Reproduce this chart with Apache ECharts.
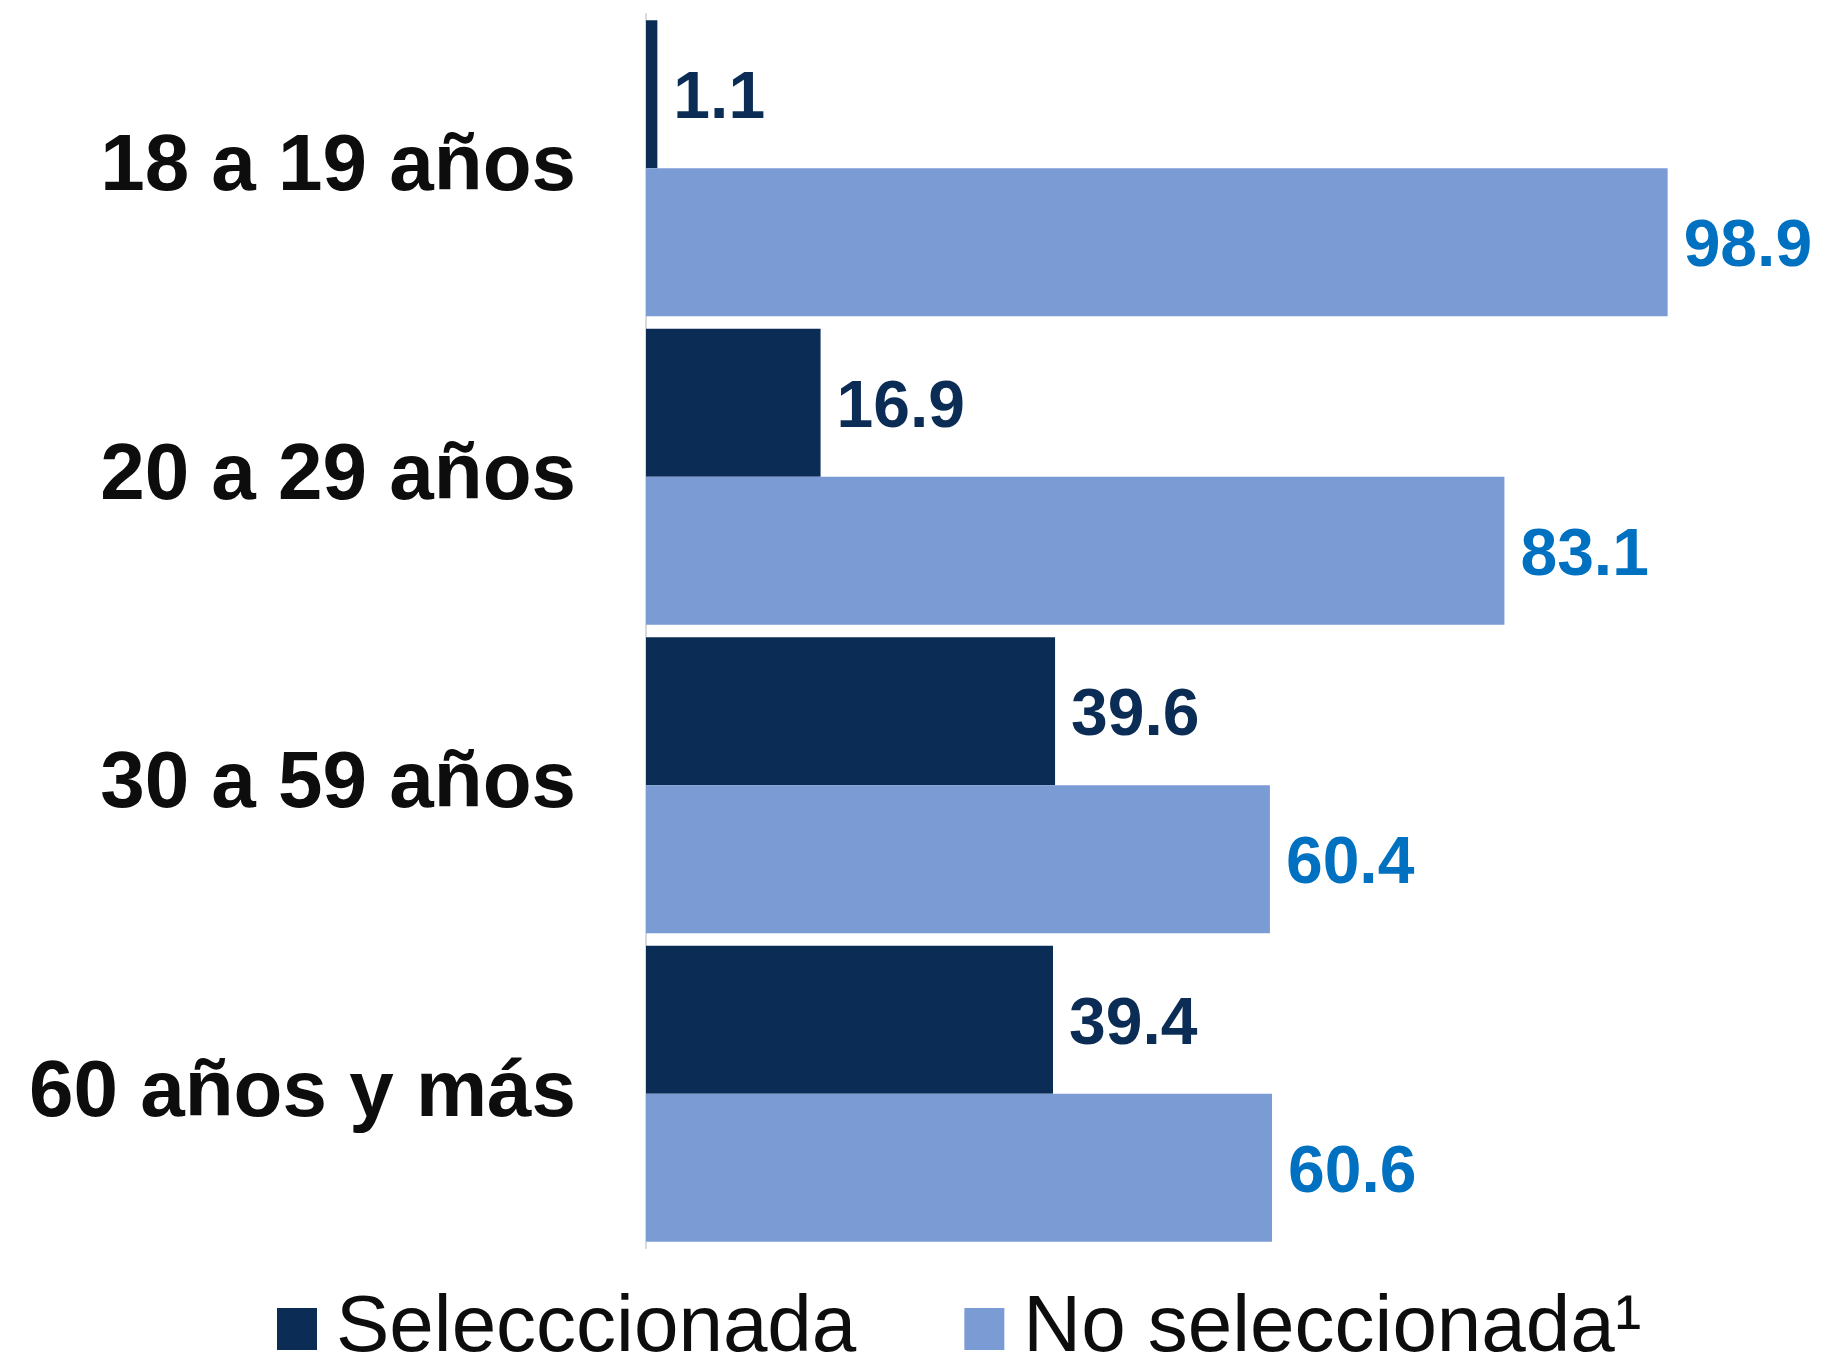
<!DOCTYPE html>
<html>
<head>
<meta charset="utf-8">
<script src="https://cdn.jsdelivr.net/npm/echarts@6/dist/echarts.min.js"></script>
<style>
html,body{margin:0;padding:0;background:#fff;}
#chart{width:1825px;height:1359px;}
</style>
</head>
<body>
<div id="chart"></div>
<script>
var categories = ['18 a 19 años', '20 a 29 años', '30 a 59 años', '60 años y más'];
var seleccionada = [1.1, 16.9, 39.6, 39.4];
var noSeleccionada = [98.9, 83.1, 60.4, 60.6];
var seriesNames = ['Selecccionada', 'No seleccionada¹'];

var chart = echarts.init(document.getElementById('chart'));
var FONT = '"Liberation Sans", Arial, sans-serif';
function fmt(p){ return p.value.toFixed(1); }
chart.setOption({
  animation: false,
  backgroundColor: '#ffffff',
  textStyle: { fontFamily: FONT },
  grid: { left: 646, top: 14, width: 1033, height: 1234, containLabel: false },
  legend: {
    data: seriesNames,
    left: 277,
    top: 1289,
    padding: 0,
    icon: 'rect',
    itemWidth: 40,
    itemHeight: 42,
    itemGap: 108,
    textStyle: { fontSize: 80, color: '#0D0D0D', fontFamily: FONT, padding: [0, 0, 0, 14] }
  },
  xAxis: {
    type: 'value', min: 0, max: 100, show: false
  },
  yAxis: {
    type: 'category',
    data: categories,
    inverse: true,
    axisLine: { show: true, lineStyle: { color: '#D9D9D9', width: 2 } },
    axisTick: { show: false },
    axisLabel: { fontSize: 80, fontWeight: 'bold', color: '#0D0D0D', margin: 70, fontFamily: FONT, padding: [7, 0, 0, 0] },
    splitLine: { show: false }
  },
  series: [
    {
      name: seriesNames[0], type: 'bar', data: seleccionada,
      barCategoryGap: '4%', barGap: '0%',
      itemStyle: { color: '#0B2D55' },
      label: { show: true, position: 'right', distance: 16, offset: [0, 6], fontSize: 66, fontWeight: 'bold', color: '#0B2D55', fontFamily: FONT, formatter: fmt }
    },
    {
      name: seriesNames[1], type: 'bar', data: noSeleccionada,
      barCategoryGap: '4%', barGap: '0%',
      itemStyle: { color: '#7B9BD4' },
      label: { show: true, position: 'right', distance: 16, offset: [0, 6], fontSize: 66, fontWeight: 'bold', color: '#0070C0', fontFamily: FONT, formatter: fmt }
    }
  ]
});
</script>
</body>
</html>
